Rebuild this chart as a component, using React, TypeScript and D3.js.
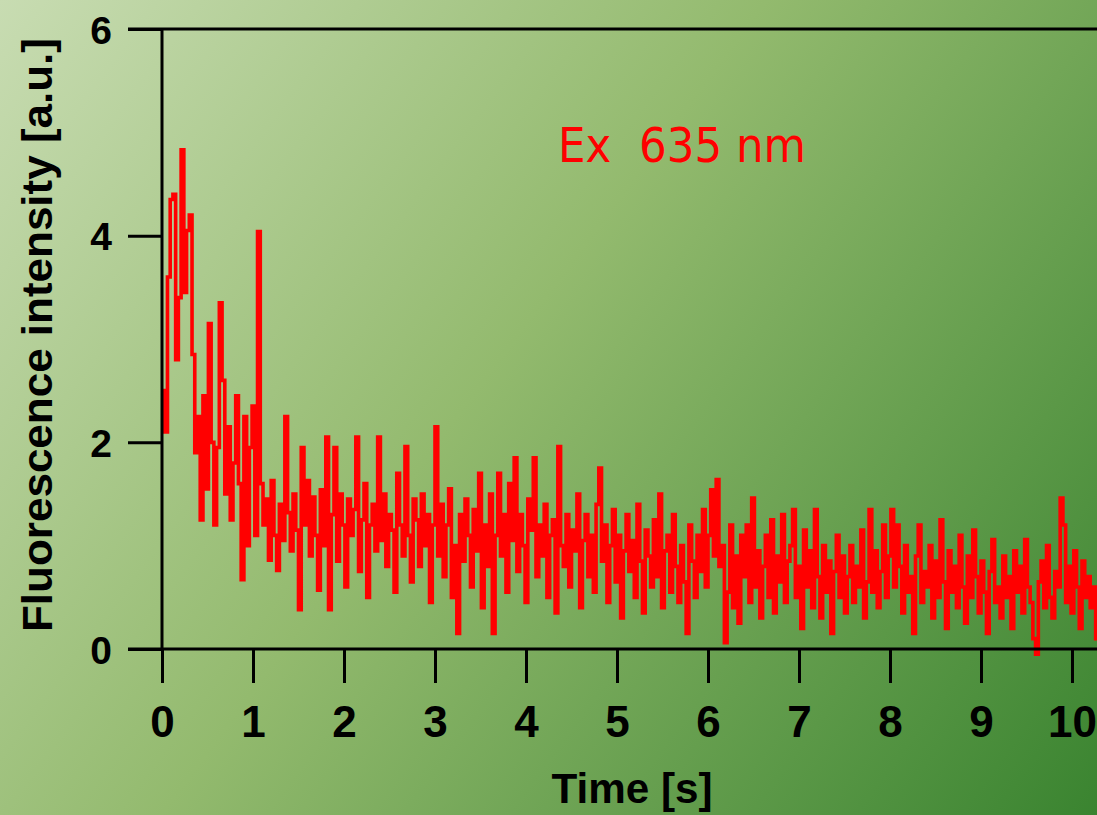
import * as d3 from "d3";
import { useEffect, useRef } from "react";

// sampling interval of the trace [s]
const sampleStep = 0.03;

// fluorescence intensity [a.u.], one value per 0.03 s
const intensity = [
  2.5, 2.1, 3.6, 4.35, 4.4, 2.8, 3.4, 4.83, 3.45, 4.05,
  4.2, 2.85, 1.9, 2.25, 1.25, 2.45, 1.55, 3.15, 2.0, 1.2,
  1.95, 3.35, 2.6, 1.5, 2.15, 1.25, 1.8, 2.45, 1.6, 0.67,
  2.25, 1.0, 1.95, 2.35, 1.1, 4.04, 1.6, 1.2, 1.45, 0.86,
  1.63, 1.1, 0.76, 1.4, 1.05, 2.25, 1.32, 0.95, 1.5, 1.15,
  0.38, 1.95, 1.2, 1.63, 0.9, 1.47, 1.1, 0.57, 1.54, 1.0,
  2.05, 0.38, 1.3, 1.95, 0.85, 1.5, 1.2, 0.6, 1.45, 1.1,
  1.35, 2.05, 0.75, 1.25, 1.6, 0.5, 1.2, 1.4, 0.95, 2.05,
  1.05, 1.5, 0.8, 1.3, 1.15, 0.55, 1.7, 1.2, 0.9, 1.96,
  1.1, 0.65, 1.45, 1.25, 0.8, 1.5, 1.0, 1.3, 0.45, 1.2,
  2.15, 0.9, 1.4, 0.7, 1.2, 1.55, 0.5, 1.0, 0.15, 1.3,
  0.85, 1.45, 1.1, 0.6, 1.35, 0.95, 1.7, 0.4, 1.2, 0.8,
  1.5, 0.15, 1.1, 1.7, 0.9, 1.3, 0.55, 1.6, 1.05, 1.85,
  0.75, 1.3, 1.0, 0.45, 1.45, 1.15, 1.85, 0.7, 1.2, 0.9,
  1.4, 0.5, 1.1, 1.25, 0.35, 1.96, 1.0, 0.8, 1.3, 0.6,
  1.15, 0.95, 1.5, 0.4, 1.05, 1.3, 0.7, 1.1, 0.55, 1.4,
  1.75, 0.85, 1.2, 0.45, 1.0, 1.35, 0.65, 1.1, 0.3, 0.95,
  1.3, 0.75, 1.05, 0.5, 1.4, 0.85, 0.35, 1.15, 0.9, 0.6,
  1.25, 0.7, 1.5, 0.4, 0.95, 1.1, 0.55, 1.3, 0.8, 0.45,
  1.0, 0.65, 0.15, 1.2, 0.85, 0.5, 1.1, 0.75, 1.35, 0.6,
  1.1, 1.54, 0.9, 1.64, 0.8, 1.0, 0.06, 0.55, 1.2, 0.4,
  0.9, 0.25, 1.1, 0.7, 1.2, 0.45, 1.46, 0.6, 0.95, 0.3,
  0.8, 1.1, 0.5, 1.25, 0.35, 0.9, 0.65, 1.3, 0.45, 0.85,
  1.0, 1.35, 0.5, 0.8, 0.2, 1.15, 0.6, 0.95, 0.4, 1.35,
  0.7, 0.3, 1.0, 0.55, 0.85, 0.15, 0.75, 1.1, 0.5, 0.9,
  0.35, 0.7, 1.0, 0.45, 0.8, 0.6, 1.15, 0.3, 0.65, 1.35,
  0.55, 0.95, 0.4, 0.75, 1.2, 0.5, 0.9, 1.35, 0.6, 1.2,
  0.8, 0.35, 1.0, 0.55, 0.7, 0.15, 0.9, 1.2, 0.45, 0.75,
  0.6, 1.0, 0.3, 0.85, 0.5, 1.25, 0.65, 0.2, 0.95, 0.55,
  0.8, 0.4, 1.1, 0.6, 0.25, 0.9, 0.5, 1.15, 0.7, 0.35,
  0.85, 0.55, 0.15, 0.75, 1.06, 0.45, 0.6, 0.3, 0.9, 0.5,
  0.7, 0.2, 0.95, 0.55, 0.8, 0.35, 1.06, 0.6, 0.45, 0.1,
  -0.05, 0.65, 0.85, 0.4, 1.0, 0.5, 0.3, 0.75, 0.6, 1.46,
  1.2, 0.45, 0.8, 0.35, 0.95, 0.6, 0.2, 0.85, 0.5, 0.7,
  0.4, 0.6, 0.1, 0.55
];

const xTicks = [0, 1, 2, 3, 4, 5, 6, 7, 8, 9, 10];
const yTicks = [0, 2, 4, 6];

const App = () => {
  const svgRef = useRef(null);

  const width = 1097;
  const height = 815;

  useEffect(() => {
    const svg = d3.select(svgRef.current);
    svg.selectAll("*").remove();

    const x = d3.scaleLinear().domain([0, 10]).range([162, 1072]);
    const y = d3.scaleLinear().domain([0, 6]).range([649, 29]);

    // фон: диагональный зелёный градиент
    const defs = svg.append("defs");
    const grad = defs.append("linearGradient")
      .attr("id", "bg")
      .attr("gradientUnits", "userSpaceOnUse")
      .attr("x1", 0).attr("y1", 0)
      .attr("x2", width).attr("y2", height);
    grad.append("stop").attr("offset", "0%").attr("stop-color", "#c8dcb2");
    grad.append("stop").attr("offset", "45%").attr("stop-color", "#93ba6e");
    grad.append("stop").attr("offset", "100%").attr("stop-color", "#3a8430");

    defs.append("clipPath").attr("id", "plot")
      .append("rect")
      .attr("x", x(0)).attr("y", 0)
      .attr("width", width - x(0)).attr("height", height);

    svg.append("rect")
      .attr("width", width).attr("height", height)
      .attr("fill", "url(#bg)");

    const font = "'Liberation Sans', Arial, sans-serif";

    // trace
    const line = d3.line()
      .x((d, i) => x(i * sampleStep))
      .y(d => y(d))
      .curve(d3.curveStepAfter);

    svg.append("path")
      .datum(intensity)
      .attr("d", line)
      .attr("clip-path", "url(#plot)")
      .attr("fill", "none")
      .attr("stroke", "#ff0000")
      .attr("stroke-width", 3.6)
      .attr("stroke-linejoin", "miter");

    // рамка
    const tickLen = 34;
    svg.append("line")
      .attr("x1", x(0) - tickLen).attr("x2", width)
      .attr("y1", y(6)).attr("y2", y(6))
      .attr("stroke", "#000").attr("stroke-width", 3);
    svg.append("line")
      .attr("x1", x(0) - tickLen).attr("x2", width)
      .attr("y1", y(0)).attr("y2", y(0))
      .attr("stroke", "#000").attr("stroke-width", 3);
    svg.append("line")
      .attr("x1", x(0)).attr("x2", x(0))
      .attr("y1", y(6)).attr("y2", y(0))
      .attr("stroke", "#000").attr("stroke-width", 3);

    // ось X
    const gx = svg.append("g")
      .attr("transform", `translate(0, ${y(0)})`)
      .call(d3.axisBottom(x).tickValues(xTicks).tickSize(tickLen).tickSizeOuter(0).tickFormat(d3.format("d")));
    gx.select(".domain").remove();
    gx.selectAll(".tick line").attr("stroke", "#000").attr("stroke-width", 3);
    gx.selectAll(".tick text")
      .attr("y", 88)
      .attr("dy", null)
      .attr("fill", "#000")
      .style("font-family", font)
      .style("font-weight", "bold")
      .style("font-size", "44px");

    // ось Y
    const gy = svg.append("g")
      .attr("transform", `translate(${x(0)}, 0)`)
      .call(d3.axisLeft(y).tickValues(yTicks).tickSize(tickLen).tickSizeOuter(0).tickFormat(d3.format("d")));
    gy.select(".domain").remove();
    gy.selectAll(".tick line").attr("stroke", "#000").attr("stroke-width", 3);
    gy.selectAll(".tick text")
      .attr("x", -61)
      .attr("dy", null)
      .attr("y", 14)
      .attr("text-anchor", "middle")
      .attr("fill", "#000")
      .style("font-family", font)
      .style("font-weight", "bold")
      .style("font-size", "39px");

    // подписи осей
    svg.append("text")
      .attr("x", 632).attr("y", 803)
      .attr("text-anchor", "middle")
      .attr("textLength", 161)
      .attr("lengthAdjust", "spacingAndGlyphs")
      .style("font-family", font)
      .style("font-weight", "bold")
      .style("font-size", "43px")
      .text("Time [s]");

    svg.append("text")
      .attr("transform", "translate(52, 335) rotate(-90)")
      .attr("text-anchor", "middle")
      .attr("textLength", 594)
      .attr("lengthAdjust", "spacingAndGlyphs")
      .style("font-family", font)
      .style("font-weight", "bold")
      .style("font-size", "43px")
      .text("Fluorescence intensity [a.u.]");

    // надпись
    svg.append("text")
      .attr("x", 558).attr("y", 162)
      .attr("textLength", 248)
      .attr("lengthAdjust", "spacingAndGlyphs")
      .attr("fill", "#ff0000")
      .style("font-family", "'DejaVu Sans', sans-serif")
      .style("font-size", "48px")
      .style("white-space", "pre")
      .text("Ex  635 nm");
  }, []);

  return (
    <svg
      ref={svgRef}
      width={width}
      height={height}
      style={{ position: "absolute", left: 0, top: 0, display: "block" }}
    ></svg>
  );
};

export default App;
